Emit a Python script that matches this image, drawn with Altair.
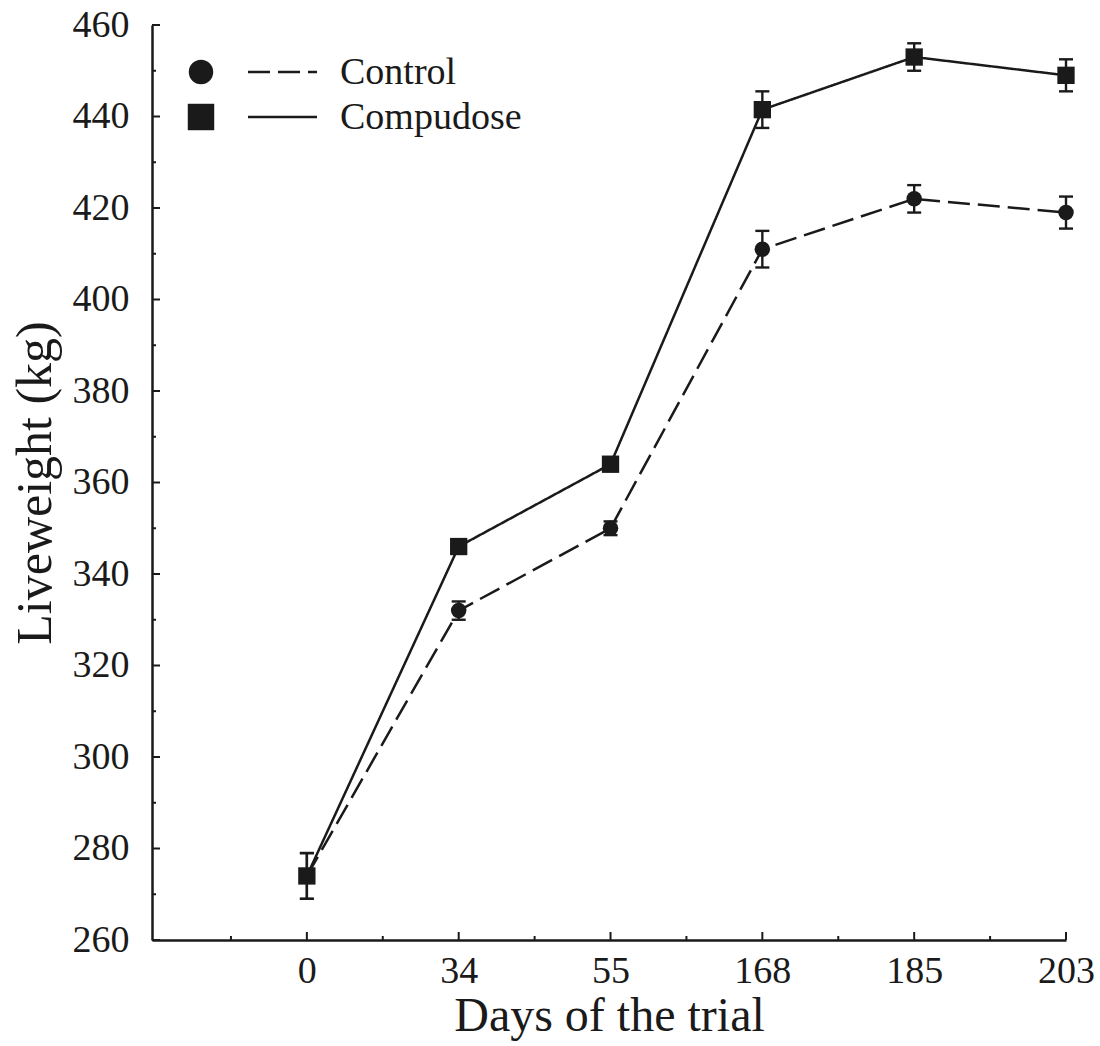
import altair as alt
import pandas as pd

# ---- data ----
days = ["0", "34", "55", "168", "185", "203"]
series_names = ["Control", "Compudose"]
control = [274, 332, 350, 411, 422, 419]
control_err = [5, 2, 1.5, 4, 3, 3.5]
compudose = [274, 346, 364, 441.5, 453, 449]
compudose_err = [5, 1.5, 1.5, 4, 3, 3.5]
y_major = list(range(260, 461, 20))
y_minor = list(range(270, 451, 20))
x_major = list(range(len(days)))
x_minor = [i - 0.5 for i in range(len(days))]

rows = []
for name, vals, errs in [("Control", control, control_err), ("Compudose", compudose, compudose_err)]:
    for i, (v, e) in enumerate(zip(vals, errs)):
        rows.append(dict(series=name, idx=i, day=days[i], value=v, lo=v - e, hi=v + e))
df = pd.DataFrame(rows)

FONT = "Liberation Serif"
INK = "#1a1a1a"
W, H = 914, 915
XT = "Days of the trial"
YT = "Liveweight (kg)"

label_expr = "[" + ",".join(f"'{d}'" for d in days) + "][datum.value]"
xscale = alt.Scale(domain=[-1.02, len(days) - 1], nice=False, zero=False)
yscale = alt.Scale(domain=[260, 460], nice=False, zero=False)
xaxis = alt.Axis(values=x_major, labelExpr=label_expr, title=XT, labelPadding=12,
                 titlePadding=2, titleFontSize=48, labelFlush=False)
yaxis = alt.Axis(values=y_major, title=YT, labelPadding=23, titlePadding=12)

X = alt.X("idx:Q", scale=xscale, axis=xaxis, title=XT)
Y = alt.Y("value:Q", scale=yscale, axis=yaxis, title=YT)

base = alt.Chart(df)

lines = base.mark_line(strokeWidth=2.5, color=INK).encode(
    x=X, y=Y,
    strokeDash=alt.StrokeDash("series:N", scale=alt.Scale(domain=series_names, range=[[22, 8], [1, 0]]), legend=None),
)

errbars = base.mark_errorbar(color=INK, opacity=1, thickness=2.4,
                             rule={"opacity": 1, "color": INK, "strokeWidth": 2.4},
                             ticks={"size": 14, "thickness": 2.4, "color": INK, "opacity": 1}).encode(
    x=alt.X("idx:Q", title=XT),
    y=alt.Y("lo:Q", title=YT),
    y2="hi:Q",
)

points = base.mark_point(filled=True, opacity=1, color=INK).encode(
    x=alt.X("idx:Q", title=XT),
    y=alt.Y("value:Q", title=YT),
    shape=alt.Shape("series:N", scale=alt.Scale(domain=series_names, range=["circle", "square"]), legend=None),
    size=alt.Size("series:N", scale=alt.Scale(domain=series_names, range=[240, 300]), legend=None),
)

# inward ticks
ytick_major = alt.Chart(pd.DataFrame({"v": y_major})).mark_rule(color=INK, strokeWidth=2).encode(
    y=alt.Y("v:Q", title=YT), x=alt.value(0), x2=alt.value(8))
ytick_minor = alt.Chart(pd.DataFrame({"v": y_minor})).mark_rule(color=INK, strokeWidth=2).encode(
    y=alt.Y("v:Q", title=YT), x=alt.value(0), x2=alt.value(4))
xtick_major = alt.Chart(pd.DataFrame({"v": x_major})).mark_rule(color=INK, strokeWidth=2).encode(
    x=alt.X("v:Q", title=XT), y=alt.value(H), y2=alt.value(H - 8))
xtick_minor = alt.Chart(pd.DataFrame({"v": x_minor})).mark_rule(color=INK, strokeWidth=2).encode(
    x=alt.X("v:Q", title=XT), y=alt.value(H), y2=alt.value(H - 4))

# manual legend
leg = pd.DataFrame({"series": series_names})
leg_layers = []
leg_y = [47, 92]
leg_shape = ["circle", "square"]
leg_size = [600, 700]
leg_dash = [[22, 8], [1, 0]]
for k, name in enumerate(series_names):
    src = alt.Chart(leg).transform_filter(alt.datum.series == name)
    leg_layers.append(src.mark_point(shape=leg_shape[k], filled=True, opacity=1, size=leg_size[k], color=INK)
                      .encode(x=alt.value(49), y=alt.value(leg_y[k])))
    leg_layers.append(src.mark_rule(color=INK, strokeWidth=2.5, strokeDash=leg_dash[k])
                      .encode(x=alt.value(96), x2=alt.value(165), y=alt.value(leg_y[k])))
    leg_layers.append(src.mark_text(align="left", baseline="middle", font=FONT, fontSize=38, color=INK)
                      .encode(x=alt.value(188), y=alt.value(leg_y[k] + 1), text="series:N"))

chart = alt.layer(
    lines, errbars, points, ytick_major, ytick_minor, xtick_major, xtick_minor, *leg_layers
).properties(
    width=W, height=H,
    autosize=alt.AutoSizeParams(type="none"),
    padding={"left": 152, "top": 25, "right": 34, "bottom": 106},
    background="white",
).configure_view(stroke=None).configure_axis(
    domainColor=INK, domainWidth=2.5, ticks=False, tickSize=0, grid=False,
    labelFont=FONT, labelFontSize=38, labelColor=INK,
    titleFont=FONT, titleFontSize=50, titleFontWeight="normal", titleColor=INK,
)

chart.save("out.html", embed_options={"renderer": "svg", "actions": False})
